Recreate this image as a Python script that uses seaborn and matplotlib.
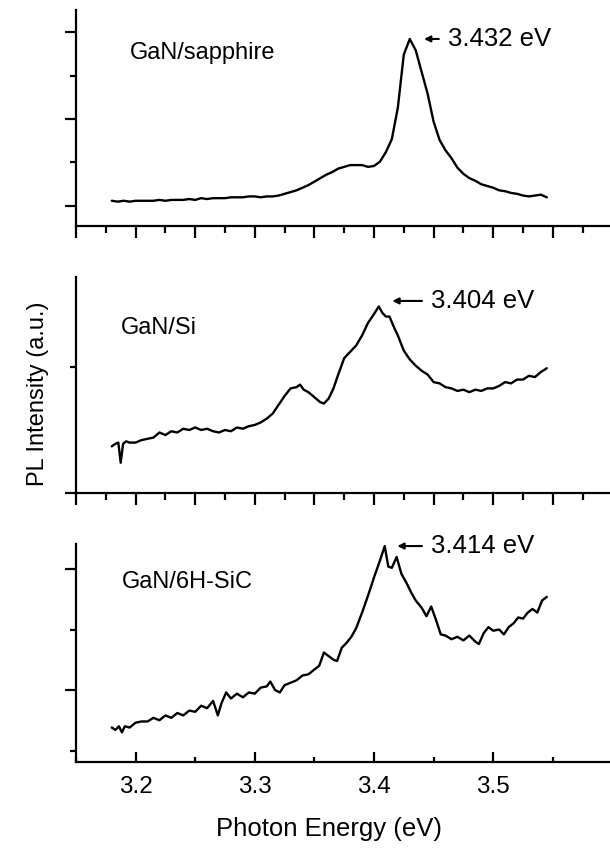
import matplotlib
matplotlib.use("Agg")
import matplotlib.pyplot as plt
from matplotlib.ticker import MultipleLocator, FixedLocator, NullFormatter
import seaborn as sns

# GaN/sapphire spectrum
sapphire_energy = [3.180, 3.185, 3.190, 3.195, 3.200, 3.205, 3.210, 3.215, 3.220, 3.225,
                   3.230, 3.235, 3.240, 3.245, 3.250, 3.255, 3.260, 3.265, 3.270, 3.275,
                   3.280, 3.285, 3.290, 3.295, 3.300, 3.305, 3.310, 3.315, 3.320, 3.325,
                   3.330, 3.335, 3.340, 3.345, 3.350, 3.355, 3.360, 3.365, 3.370, 3.375,
                   3.380, 3.385, 3.390, 3.395, 3.400, 3.405, 3.410, 3.415, 3.420, 3.425,
                   3.430, 3.435, 3.440, 3.445, 3.450, 3.455, 3.460, 3.465, 3.470, 3.475,
                   3.480, 3.485, 3.490, 3.495, 3.500, 3.505, 3.510, 3.515, 3.520, 3.525,
                   3.530, 3.535, 3.540, 3.545]
sapphire_pl = [0.06, 0.05, 0.06, 0.05, 0.06, 0.06, 0.06, 0.06, 0.07, 0.06,
               0.07, 0.07, 0.07, 0.08, 0.07, 0.09, 0.08, 0.09, 0.09, 0.09,
               0.10, 0.10, 0.10, 0.11, 0.11, 0.10, 0.11, 0.11, 0.12, 0.14,
               0.16, 0.18, 0.21, 0.24, 0.28, 0.32, 0.36, 0.39, 0.43, 0.45,
               0.47, 0.47, 0.47, 0.45, 0.46, 0.51, 0.62, 0.77, 1.13, 1.74,
               1.92, 1.79, 1.54, 1.29, 0.97, 0.76, 0.64, 0.55, 0.44, 0.37,
               0.32, 0.29, 0.25, 0.23, 0.21, 0.18, 0.17, 0.15, 0.14, 0.12,
               0.11, 0.12, 0.13, 0.10]

# GaN/Si spectrum
si_energy = [3.180, 3.183, 3.1855, 3.1875, 3.1895, 3.192, 3.195, 3.200, 3.205, 3.210,
             3.215, 3.220, 3.225, 3.230, 3.235, 3.240, 3.245, 3.250, 3.255, 3.260,
             3.265, 3.270, 3.275, 3.280, 3.285, 3.290, 3.295, 3.300, 3.305, 3.310,
             3.315, 3.320, 3.325, 3.330, 3.335, 3.338, 3.341, 3.345, 3.350, 3.355,
             3.358, 3.362, 3.366, 3.370, 3.375, 3.380, 3.385, 3.390, 3.395, 3.400,
             3.404, 3.407, 3.410, 3.413, 3.417, 3.420, 3.425, 3.430, 3.435, 3.440,
             3.445, 3.450, 3.455, 3.460, 3.465, 3.470, 3.475, 3.480, 3.485, 3.490,
             3.495, 3.500, 3.505, 3.510, 3.515, 3.520, 3.525, 3.530, 3.535, 3.540,
             3.545]
si_pl = [0.37, 0.39, 0.40, 0.24, 0.39, 0.41, 0.40, 0.40, 0.42, 0.43,
         0.44, 0.48, 0.46, 0.49, 0.48, 0.51, 0.50, 0.52, 0.50, 0.51,
         0.49, 0.48, 0.50, 0.49, 0.52, 0.51, 0.53, 0.54, 0.56, 0.59,
         0.63, 0.70, 0.77, 0.83, 0.84, 0.86, 0.82, 0.80, 0.76, 0.72,
         0.71, 0.75, 0.83, 0.94, 1.07, 1.12, 1.17, 1.25, 1.35, 1.42,
         1.48, 1.43, 1.40, 1.40, 1.31, 1.25, 1.13, 1.06, 1.01, 0.97,
         0.94, 0.88, 0.87, 0.84, 0.83, 0.81, 0.82, 0.80, 0.82, 0.81,
         0.83, 0.83, 0.85, 0.88, 0.87, 0.90, 0.90, 0.93, 0.92, 0.96,
         0.99]

# GaN/6H-SiC spectrum
sic_energy = [3.180, 3.183, 3.186, 3.1885, 3.191, 3.195, 3.200, 3.205, 3.210, 3.215,
              3.220, 3.225, 3.230, 3.235, 3.240, 3.245, 3.250, 3.255, 3.260, 3.265,
              3.269, 3.272, 3.276, 3.280, 3.285, 3.290, 3.295, 3.300, 3.305, 3.310,
              3.313, 3.317, 3.321, 3.325, 3.330, 3.335, 3.340, 3.345, 3.350, 3.354,
              3.358, 3.362, 3.366, 3.369, 3.373, 3.377, 3.381, 3.385, 3.390, 3.395,
              3.400, 3.405, 3.409, 3.412, 3.415, 3.419, 3.423, 3.427, 3.431, 3.435,
              3.440, 3.444, 3.448, 3.452, 3.456, 3.460, 3.465, 3.470, 3.475, 3.480,
              3.485, 3.488, 3.492, 3.496, 3.500, 3.505, 3.509, 3.513, 3.517, 3.521,
              3.525, 3.529, 3.533, 3.537, 3.541, 3.545]
sic_pl = [-0.31, -0.33, -0.30, -0.35, -0.30, -0.31, -0.27, -0.26, -0.26, -0.23,
          -0.25, -0.21, -0.23, -0.19, -0.21, -0.17, -0.18, -0.13, -0.15, -0.09,
          -0.21, -0.11, -0.02, -0.07, -0.03, -0.06, -0.02, -0.03, 0.02, 0.03,
          0.07, 0.00, -0.02, 0.04, 0.06, 0.08, 0.12, 0.13, 0.17, 0.20,
          0.31, 0.28, 0.25, 0.24, 0.35, 0.39, 0.44, 0.51, 0.64, 0.78,
          0.93, 1.07, 1.19, 1.02, 1.01, 1.10, 0.96, 0.89, 0.81, 0.74,
          0.68, 0.61, 0.69, 0.58, 0.46, 0.45, 0.42, 0.44, 0.41, 0.45,
          0.40, 0.38, 0.47, 0.52, 0.49, 0.50, 0.46, 0.52, 0.55, 0.60,
          0.59, 0.64, 0.67, 0.64, 0.74, 0.77]

sample_names = ["GaN/sapphire", "GaN/Si", "GaN/6H-SiC"]
peak_labels = ["3.432 eV", "3.404 eV", "3.414 eV"]

sns.set_style("ticks")
plt.rcParams["font.family"] = ["Liberation Sans", "DejaVu Sans"]
plt.rcParams["text.color"] = "black"
plt.rcParams["axes.labelcolor"] = "black"
plt.rcParams["xtick.color"] = "black"
plt.rcParams["ytick.color"] = "black"

fig = plt.figure(figsize=(6.1, 8.48), dpi=100)

# panel boxes in pixels (top, bottom)
boxes = [(10, 226), (277, 493), (544, 762)]
axes = [fig.add_axes([76 / 610, 1 - b / 848, 534 / 610, (b - t) / 848]) for t, b in boxes]

curves = [(sapphire_energy, sapphire_pl), (si_energy, si_pl), (sic_energy, sic_pl)]
ylims = [(-0.23, 2.253), (0.0, 1.714), (-0.595, 1.207)]
ymajor = [[0, 1, 2], [0], [0, 1]]
yminor = [[0.5, 1.5], [1.0], [-0.5, 0.5]]
name_pos = [(3.195, 1.76), (3.1874, 1.31), (3.1885, 0.89)]
arrow_tip = [(3.442, 1.92), (3.4154, 1.524), (3.4196, 1.19)]
text_x = [3.4618, 3.4477, 3.4477]

for i, ax in enumerate(axes):
    x, y = curves[i]
    sns.lineplot(x=x, y=y, ax=ax, color="black", linewidth=1.7)
    ax.set_xlim(3.15, 3.598)
    ax.set_ylim(*ylims[i])
    sns.despine(ax=ax)
    for side in ["left", "bottom"]:
        ax.spines[side].set_linewidth(1.6)
        ax.spines[side].set_color("black")

    ax.yaxis.set_major_locator(FixedLocator(ymajor[i]))
    ax.yaxis.set_minor_locator(FixedLocator(yminor[i]))
    ax.yaxis.set_major_formatter(NullFormatter())
    ax.tick_params(axis="y", which="major", direction="out", length=8, width=1.6)
    ax.tick_params(axis="y", which="minor", direction="out", length=4, width=1.6)

    if i < 2:
        ax.xaxis.set_major_locator(MultipleLocator(0.05))
        ax.xaxis.set_minor_locator(MultipleLocator(0.025))
        ax.xaxis.set_major_formatter(NullFormatter())
        ax.tick_params(axis="x", which="major", direction="out", length=8.5, width=1.6)
        ax.tick_params(axis="x", which="minor", direction="out", length=5, width=1.6)
    else:
        ax.xaxis.set_major_locator(MultipleLocator(0.1))
        ax.xaxis.set_minor_locator(MultipleLocator(0.05))
        ax.tick_params(axis="x", which="major", direction="in", length=7, width=1.6,
                       labelsize=17.5, pad=10)
        ax.tick_params(axis="x", which="minor", direction="in", length=3.5, width=1.6)

    ax.set_xlabel("")
    ax.set_ylabel("")
    ax.text(name_pos[i][0], name_pos[i][1], sample_names[i], fontsize=17,
            ha="left", va="center")
    ax.annotate(peak_labels[i], xy=arrow_tip[i], xytext=(text_x[i], arrow_tip[i][1]),
                fontsize=18.5, ha="left", va="center",
                arrowprops=dict(arrowstyle="-|>", color="black", lw=1.5,
                                mutation_scale=9, shrinkA=4, shrinkB=0))

axes[2].set_xlabel("Photon Energy (eV)", fontsize=18.5)
axes[2].xaxis.set_label_coords(253 / 534, (762 - 829) / 218)
axes[2].xaxis.label.set_verticalalignment("center")

fig.text(38 / 610, 1 - 393.5 / 848, "PL Intensity (a.u.)", rotation=90,
         ha="center", va="center", fontsize=17)

fig.savefig("out.png", dpi=100)
